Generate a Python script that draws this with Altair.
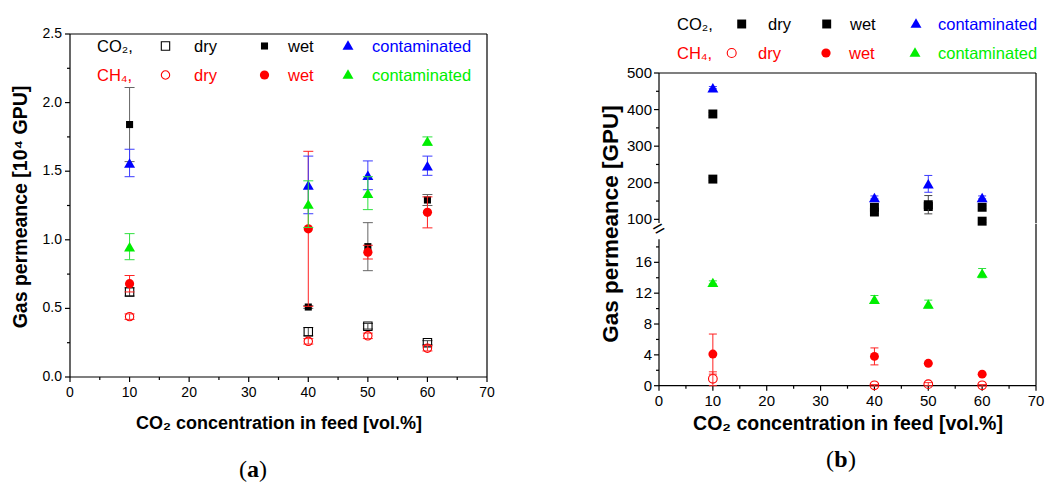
import altair as alt
import pandas as pd

# ---------------- data ----------------
FEED = [10, 40, 50, 60]

# panel (a): gas permeance in 10^4 GPU
A_CO2_DRY = [0.62, 0.33, 0.37, 0.25]
A_CO2_DRY_ERR = [0.03, 0.03, 0.02, 0.015]
A_CH4_DRY = [0.44, 0.26, 0.30, 0.21]
A_CH4_DRY_ERR = [0.02, 0.02, 0.02, 0.02]
A_CO2_WET = [1.84, 0.51, 0.95, 1.29]
A_CO2_WET_ERR = [0.27, 0.01, 0.175, 0.04]
A_CH4_WET = [0.68, 1.08, 0.91, 1.20]
A_CH4_WET_ERR = [0.06, 0.565, 0.05, 0.113]
A_CO2_CONT = [1.56, 1.40, 1.47, 1.54]
A_CO2_CONT_ERR = [0.10, 0.21, 0.105, 0.07]
A_CH4_CONT = [0.95, 1.26, 1.34, 1.72]
A_CH4_CONT_ERR = [0.095, 0.17, 0.12, 0.03]

# panel (b): gas permeance in GPU
B_CO2_DRY = [210, 120, 135, 95]
B_CO2_DRY_ERR = [4, 4, 6, 4]
B_CO2_WET = [388, 133, 140, 133]
B_CO2_WET_ERR = [4, 6, 25, 4]
B_CO2_CONT = [460, 160, 197, 160]
B_CO2_CONT_ERR = [3, 4, 23, 4]
B_CH4_DRY = [0.9, 0.05, 0.2, 0.05]
B_CH4_DRY_ERR = [0.9, 0.1, 0.2, 0.1]
B_CH4_WET = [4.1, 3.8, 2.9, 1.5]
B_CH4_WET_ERR = [2.6, 1.1, 0.1, 0.1]
B_CH4_CONT = [13.4, 11.2, 10.6, 14.6]
B_CH4_CONT_ERR = [0.2, 0.5, 0.5, 0.6]

X_DOMAIN = [0, 70]
A_Y_DOMAIN = [0, 2.5]
BU_Y_DOMAIN = [90, 500]
BL_Y_DOMAIN = [0, 19]

X_MAJOR = [0, 10, 20, 30, 40, 50, 60, 70]
X_MINOR = [5, 15, 25, 35, 45, 55, 65]
A_Y_MAJOR = [0.0, 0.5, 1.0, 1.5, 2.0, 2.5]
A_Y_MINOR = [0.25, 0.75, 1.25, 1.75, 2.25]
BU_Y_MAJOR = [100, 200, 300, 400, 500]
BU_Y_MINOR = [150, 250, 350, 450]
BL_Y_MAJOR = [0, 4, 8, 12, 16]
BL_Y_MINOR = [2, 6, 10, 14, 18]

X_TITLE = "CO₂ concentration in feed [vol.%]"
A_Y_TITLE = "Gas permeance [10⁴ GPU]"
B_Y_TITLE = "Gas permeance [GPU]"

# ---------------- layout / styling ----------------
W, H = 1046, 482
FONT = "Liberation Sans"
BLUE = "#0000ff"
GREEN = "#00ee00"
RED = "#ff0000"
BLACK = "#000000"

A_L, A_R, A_T, A_B = 70, 487, 34, 377
B_L, B_R = 659, 1036
BU_T, BU_B = 73, 223
BL_T, BL_B = 239.2, 385.7

XS_A = alt.Scale(domain=X_DOMAIN, range=[A_L, A_R], nice=False, zero=False)
YS_A = alt.Scale(domain=A_Y_DOMAIN, range=[A_B, A_T], nice=False, zero=False)
XS_B = alt.Scale(domain=X_DOMAIN, range=[B_L, B_R], nice=False, zero=False)
YS_BU = alt.Scale(domain=BU_Y_DOMAIN, range=[BU_B, BU_T], nice=False, zero=False)
YS_BL = alt.Scale(domain=BL_Y_DOMAIN, range=[BL_B, BL_T], nice=False, zero=False)

LINE_W = 1.2


def seg_layer(rows, xs, ys):
    """Axis/frame line segments given in data coordinates (x, x2, y, y2)."""
    df = pd.DataFrame(rows, columns=["fx", "fx2", "fy", "fy2"])
    return alt.Chart(df).mark_rule(color=BLACK, strokeWidth=LINE_W).encode(
        x=alt.X("fx:Q", scale=xs, axis=None), x2="fx2:Q",
        y=alt.Y("fy:Q", scale=ys, axis=None), y2="fy2:Q")


def yticks(vals, ys, xpix, length):
    df = pd.DataFrame({"v": vals})
    return alt.Chart(df).mark_rule(color=BLACK, strokeWidth=LINE_W).encode(
        y=alt.Y("v:Q", scale=ys, axis=None), x=alt.value(xpix - length), x2=alt.value(xpix))


def xticks(vals, xs, ypix, length):
    df = pd.DataFrame({"v": vals})
    return alt.Chart(df).mark_rule(color=BLACK, strokeWidth=LINE_W).encode(
        x=alt.X("v:Q", scale=xs, axis=None), y=alt.value(ypix), y2=alt.value(ypix + length))


def ylabels(vals, ys, xpix, fmt, size):
    df = pd.DataFrame({"v": vals, "lab": [format(v, fmt) for v in vals]})
    return alt.Chart(df).mark_text(align="right", baseline="middle", font=FONT, fontSize=size,
                                   color=BLACK).encode(
        y=alt.Y("v:Q", scale=ys, axis=None), x=alt.value(xpix), text="lab:N")


def xlabels(vals, xs, ypix, size):
    df = pd.DataFrame({"v": vals, "lab": [str(v) for v in vals]})
    return alt.Chart(df).mark_text(align="center", baseline="top", font=FONT, fontSize=size,
                                   color=BLACK).encode(
        x=alt.X("v:Q", scale=xs, axis=None), y=alt.value(ypix), text="lab:N")


def series(yv, ev, xs, ys, shape, filled, color, size, ecolor, cap):
    df = pd.DataFrame({
        "x": FEED, "y": yv,
        "lo": [a - b for a, b in zip(yv, ev)],
        "hi": [a + b for a, b in zip(yv, ev)],
    })
    base = alt.Chart(df)
    X = alt.X("x:Q", scale=xs, axis=None)
    bar = base.mark_rule(color=ecolor, strokeWidth=1).encode(
        x=X, y=alt.Y("lo:Q", scale=ys, axis=None), y2="hi:Q")
    c1 = base.mark_tick(orient="horizontal", color=ecolor, size=cap, thickness=1, opacity=1).encode(
        x=X, y=alt.Y("lo:Q", scale=ys, axis=None))
    c2 = base.mark_tick(orient="horizontal", color=ecolor, size=cap, thickness=1, opacity=1).encode(
        x=X, y=alt.Y("hi:Q", scale=ys, axis=None))
    pt = base.mark_point(shape=shape, filled=filled, color=color, size=size, opacity=1,
                         strokeWidth=1.1).encode(x=X, y=alt.Y("y:Q", scale=ys, axis=None))
    return [bar, c1, c2, pt]


ONE = pd.DataFrame({"k": [0]})

# ---------------- panel (a) ----------------
x0, x1 = X_DOMAIN
ya0, ya1 = A_Y_DOMAIN
a_layers = [
    seg_layer([[x0, x1, ya0, ya0], [x0, x1, ya1, ya1], [x0, x0, ya0, ya1], [x1, x1, ya0, ya1]], XS_A, YS_A),
    yticks(A_Y_MAJOR, YS_A, A_L, 5), yticks(A_Y_MINOR, YS_A, A_L, 3),
    xticks(X_MAJOR, XS_A, A_B, 5), xticks(X_MINOR, XS_A, A_B, 3),
    ylabels(A_Y_MAJOR, YS_A, A_L - 8, ".1f", 14),
    xlabels(X_MAJOR, XS_A, A_B + 9, 14),
]
a_layers += series(A_CO2_DRY, A_CO2_DRY_ERR, XS_A, YS_A, "square", False, BLACK, 70, "#444444", 10)
a_layers += series(A_CH4_DRY, A_CH4_DRY_ERR, XS_A, YS_A, "circle", False, RED, 70, "#ff3030", 10)
a_layers += series(A_CO2_WET, A_CO2_WET_ERR, XS_A, YS_A, "square", True, BLACK, 50, "#666666", 10)
a_layers += series(A_CH4_WET, A_CH4_WET_ERR, XS_A, YS_A, "circle", True, RED, 85, "#ff2020", 10)
a_layers += series(A_CO2_CONT, A_CO2_CONT_ERR, XS_A, YS_A, "triangle-up", True, BLUE, 120, "#3a3aff", 10)
a_layers += series(A_CH4_CONT, A_CH4_CONT_ERR, XS_A, YS_A, "triangle-up", True, GREEN, 120, "#30e040", 10)
panel_a = alt.layer(*a_layers)

# ---------------- panel (b) upper ----------------
yu0, yu1 = BU_Y_DOMAIN
bu_layers = [
    seg_layer([[x0, x1, yu1, yu1], [x0, x0, yu0, yu1], [x1, x1, yu0, yu1]], XS_B, YS_BU),
    yticks(BU_Y_MAJOR, YS_BU, B_L, 5), yticks(BU_Y_MINOR, YS_BU, B_L, 3),
    ylabels(BU_Y_MAJOR, YS_BU, B_L - 7, "d", 15),
]
bu_layers += series(B_CO2_DRY, B_CO2_DRY_ERR, XS_B, YS_BU, "square", True, BLACK, 80, "#444444", 8)
bu_layers += series(B_CO2_WET, B_CO2_WET_ERR, XS_B, YS_BU, "square", True, BLACK, 80, "#444444", 8)
bu_layers += series(B_CO2_CONT, B_CO2_CONT_ERR, XS_B, YS_BU, "triangle-up", True, BLUE, 120, "#3a3aff", 8)
panel_bu = alt.layer(*bu_layers)

# ---------------- panel (b) lower ----------------
yl0, yl1 = BL_Y_DOMAIN
brk = pd.DataFrame({"bx": [x0], "by": [yl1 + 1.3]})
bl_layers = [
    seg_layer([[x0, x1, yl0, yl0], [x0, x0, yl0, yl1], [x1, x1, yl0, yl1 + 2]], XS_B, YS_BL),
    yticks(BL_Y_MAJOR, YS_BL, B_L, 5), yticks(BL_Y_MINOR, YS_BL, B_L, 3),
    xticks(X_MAJOR, XS_B, BL_B, 5), xticks(X_MINOR, XS_B, BL_B, 3),
    ylabels(BL_Y_MAJOR, YS_BL, B_L - 7, "d", 15),
    xlabels(X_MAJOR, XS_B, BL_B + 8, 15),
    alt.Chart(brk).mark_text(text="=", fontSize=20, font=FONT, angle=330, color=BLACK,
                             align="center", baseline="middle").encode(
        x=alt.X("bx:Q", scale=XS_B, axis=None), y=alt.Y("by:Q", scale=YS_BL, axis=None)),
]
bl_layers += series(B_CH4_DRY, B_CH4_DRY_ERR, XS_B, YS_BL, "circle", False, RED, 75, "#ff3030", 8)
bl_layers += series(B_CH4_WET, B_CH4_WET_ERR, XS_B, YS_BL, "circle", True, RED, 80, "#ff2020", 8)
bl_layers += series(B_CH4_CONT, B_CH4_CONT_ERR, XS_B, YS_BL, "triangle-up", True, GREEN, 120, "#30e040", 8)
panel_bl = alt.layer(*bl_layers)


# ---------------- decorations (titles, legends, labels) ----------------
def txt(s, x, y, color=BLACK, size=16.5, align="left", font=FONT, weight="normal", angle=0):
    return alt.Chart(ONE).mark_text(text=s, align=align, baseline="middle", font=font,
                                    fontSize=size, fontWeight=weight, color=color,
                                    angle=angle).encode(x=alt.value(x), y=alt.value(y))


def sym(shape, x, y, color, filled, size):
    return alt.Chart(ONE).mark_point(shape=shape, filled=filled, color=color, size=size,
                                     opacity=1, strokeWidth=1.1).encode(x=alt.value(x), y=alt.value(y))


deco = [
    # axis titles
    txt(A_Y_TITLE, 21, 207, size=19.5, align="center", weight="bold", angle=270),
    txt(X_TITLE, 279, 424, size=18, align="center", weight="bold"),
    txt(B_Y_TITLE, 611, 224, size=22.5, align="center", weight="bold", angle=270),
    txt(X_TITLE, 848, 424, size=19.5, align="center", weight="bold"),
    # legend (a)
    txt("CO₂,", 97, 47), sym("square", 165.5, 46, BLACK, False, 70), txt("dry", 194, 47),
    sym("square", 264.5, 46, BLACK, True, 50), txt("wet", 288, 47),
    sym("triangle-up", 348, 45, BLUE, True, 120), txt("contaminated", 372, 47, BLUE),
    txt("CH₄,", 97, 76, RED), sym("circle", 165.5, 75, RED, False, 70), txt("dry", 194, 76, RED),
    sym("circle", 264.5, 75, RED, True, 85), txt("wet", 288, 76, RED),
    sym("triangle-up", 348, 74, GREEN, True, 120), txt("contaminated", 372, 76, GREEN),
    # legend (b)
    txt("CO₂,", 677, 25), sym("square", 741.7, 24, BLACK, True, 80), txt("dry", 768, 25),
    sym("square", 826.7, 24, BLACK, True, 80), txt("wet", 850, 25),
    sym("triangle-up", 916, 23, BLUE, True, 120), txt("contaminated", 938, 25, BLUE),
    txt("CH₄,", 677, 54, RED), sym("circle", 731.7, 53, RED, False, 80), txt("dry", 758, 54, RED),
    sym("circle", 826, 53, RED, True, 85), txt("wet", 849, 54, RED),
    sym("triangle-up", 915, 52, GREEN, True, 120), txt("contaminated", 938, 54, GREEN),
    # sub-figure labels
    txt("(", 247, 470, size=24, align="right", font="Liberation Serif"),
    txt("a", 253, 470, size=24, align="center", font="Liberation Serif", weight="bold"),
    txt(")", 259, 470, size=24, align="left", font="Liberation Serif"),
    txt("(", 834, 460, size=24, align="right", font="Liberation Serif"),
    txt("b", 841, 460, size=24, align="center", font="Liberation Serif", weight="bold"),
    txt(")", 848, 460, size=24, align="left", font="Liberation Serif"),
]
panel_deco = alt.layer(*deco)

chart = (
    alt.layer(panel_a, panel_bu, panel_bl, panel_deco)
    .resolve_scale(x="independent", y="independent")
    .properties(width=W, height=H, autosize=alt.AutoSizeParams(type="none"), padding=0,
                background="white")
    .configure_view(stroke=None)
)

chart.save("out.html", embed_options={"renderer": "svg", "actions": False})
